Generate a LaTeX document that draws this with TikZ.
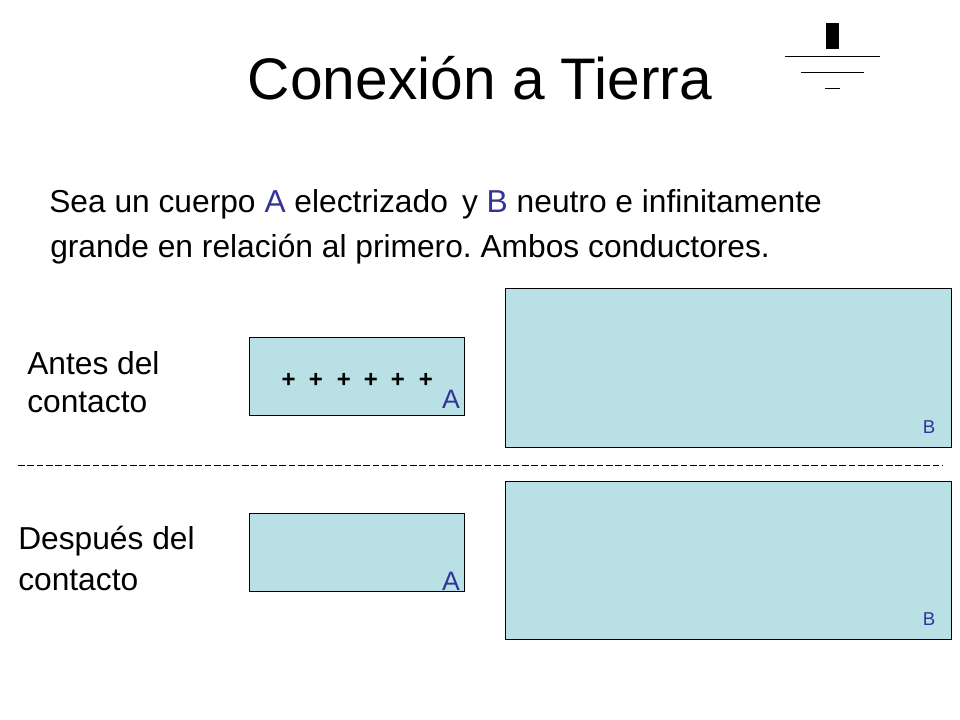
\documentclass[tikz,border=0pt]{standalone}
\usepackage{fontspec}
\usepackage{xcolor}
\setmainfont{Liberation Sans}
\frenchspacing
\definecolor{bodyfill}{RGB}{185,224,228}
\definecolor{letterblue}{RGB}{51,51,153}
\tikzset{
  bodyA/.style={shape=rectangle, draw=black, line width=0.75pt, fill=bodyfill, minimum width=161.25pt, minimum height=58.5pt, inner sep=0pt},
  bodyB/.style={shape=rectangle, draw=black, line width=0.75pt, fill=bodyfill, minimum width=334.5pt, minimum height=118.5pt, inner sep=0pt},
  textline/.style={anchor=base west, inner sep=0pt, font=\fontsize{23.8}{28}\selectfont},
  bigletter/.style={inner sep=0pt, text=letterblue, font=\fontsize{20}{24}\selectfont},
  smallletter/.style={inner sep=0pt, text=letterblue, font=\fontsize{14}{16}\selectfont},
  plusmark/.style={inner sep=0pt, font=\fontsize{18}{20}\selectfont\bfseries}
}
\newcommand{\blueletter}[1]{\textcolor{letterblue}{#1}}
\begin{document}
\begin{tikzpicture}[x=0.75pt, y=-0.75pt]
\useasboundingbox (0, 0) rectangle (960, 720);
\node at (480, 78) [inner sep=0pt, font=\fontsize{44}{50}\selectfont] (title) {Conexión a Tierra};
% ground symbol
\fill [black] (826, 23) rectangle (839, 49);
\coordinate (g1l) at (785, 56.5);
\coordinate (g1r) at (880, 56.5);
\coordinate (g2l) at (801, 72.5);
\coordinate (g2r) at (864, 72.5);
\coordinate (g3l) at (825, 88.5);
\coordinate (g3r) at (840, 88.5);
\draw [line width=0.75pt] (g1l) to (g1r);
\draw [line width=0.75pt] (g2l) to (g2r);
\draw [line width=0.75pt] (g3l) to (g3r);
\node at (49, 213) [textline] (line1) {Sea un cuerpo \blueletter{A} electrizado\, y \blueletter{B} neutro e infinitamente};
\node at (50, 258) [textline] (line2) {grande en relación al primero. Ambos conductores.};
\node at (356.5, 376) [bodyA] (a1) {};
\node at (728, 368) [bodyB] (b1) {};
\node at (356.5, 552) [bodyA] (a2) {};
\node at (728, 560) [bodyB] (b2) {};
\foreach \px/\n in {288.7/1, 316/2, 344/3, 371/4, 398/5, 426/6}
  \node at (\px, 380) [plusmark] (plus\n) {+};
\node at (451, 399) [bigletter] (labela1) {A};
\node at (451, 581) [bigletter] (labela2) {A};
\node at (929, 427) [smallletter] (labelb1) {B};
\node at (929, 619) [smallletter] (labelb2) {B};
\node at (27, 374) [textline] (before1) {Antes del};
\node at (27, 412) [textline] (before2) {contacto};
\node at (18, 549) [textline] (after1) {Después del};
\node at (18, 590) [textline] (after2) {contacto};
\coordinate (sepl) at (18, 465);
\coordinate (sepr) at (943, 465);
\draw [dashed, line width=0.75pt, dash pattern=on 5pt off 2pt] (sepl) to (sepr);
\end{tikzpicture}
\end{document}
